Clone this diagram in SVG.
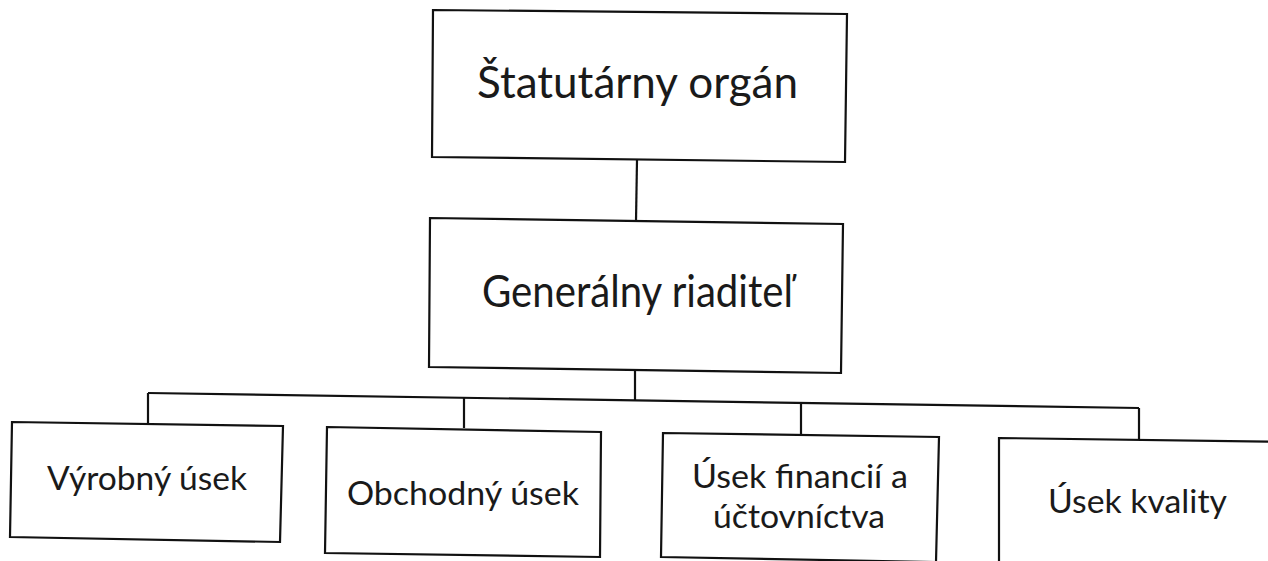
<svg xmlns="http://www.w3.org/2000/svg" width="1268" height="561" viewBox="0 0 1268 561">
<style>
.box{fill:#fff;stroke:#111;stroke-width:2.2;stroke-linejoin:miter}
.con{fill:none;stroke:#111;stroke-width:2.2}
.lbl{font-family:Lato,"Open Sans","Liberation Sans",sans-serif;fill:#1a1a1a}
.big{font-size:44px}
.sm{font-size:33px}
</style>
<rect width="1268" height="561" fill="#fff"/>
<g id="connectors">
<line class="con" x1="637" y1="160" x2="636" y2="221"/>
<line class="con" x1="635" y1="370" x2="635" y2="400"/>
<line class="con" x1="148" y1="393" x2="1139" y2="408"/>
<line class="con" x1="148" y1="393" x2="148" y2="424"/>
<line class="con" x1="464" y1="398" x2="464" y2="428"/>
<line class="con" x1="801" y1="403" x2="801" y2="434"/>
<line class="con" x1="1139" y1="408" x2="1139" y2="439"/>
</g>
<g id="n-statutarny">
<polygon class="box" points="433,10 847,14 845,162 432,157"/>
<text class="lbl big" x="477" y="98" textLength="321" lengthAdjust="spacingAndGlyphs">Štatutárny orgán</text>
</g>
<g id="n-generalny">
<polygon class="box" points="430,218 843,224 841,373 429,367"/>
<text class="lbl big" x="482" y="307" textLength="311" lengthAdjust="spacingAndGlyphs">Generálny riaditeľ</text>
</g>
<g id="n-vyrobny">
<polygon class="box" points="12,422 283,426 280,542 10,537"/>
<text class="lbl sm" x="47" y="490" textLength="200" lengthAdjust="spacingAndGlyphs">Výrobný úsek</text>
</g>
<g id="n-obchodny">
<polygon class="box" points="327,427 601,432 600,557 325,553"/>
<text class="lbl sm" x="347" y="505" textLength="232" lengthAdjust="spacingAndGlyphs">Obchodný úsek</text>
</g>
<g id="n-financie">
<polygon class="box" points="663,433 939,437 936,562 661,557"/>
<text class="lbl sm" x="692" y="488" textLength="216" lengthAdjust="spacingAndGlyphs">Úsek financií a</text>
<text class="lbl sm" x="713" y="528" textLength="172" lengthAdjust="spacingAndGlyphs">účtovníctva</text>
</g>
<g id="n-kvalita">
<polygon class="box" points="999,438 1290,442 1290,580 999,580"/>
<text class="lbl sm" x="1048" y="513" textLength="179" lengthAdjust="spacingAndGlyphs">Úsek kvality</text>
</g>
</svg>
